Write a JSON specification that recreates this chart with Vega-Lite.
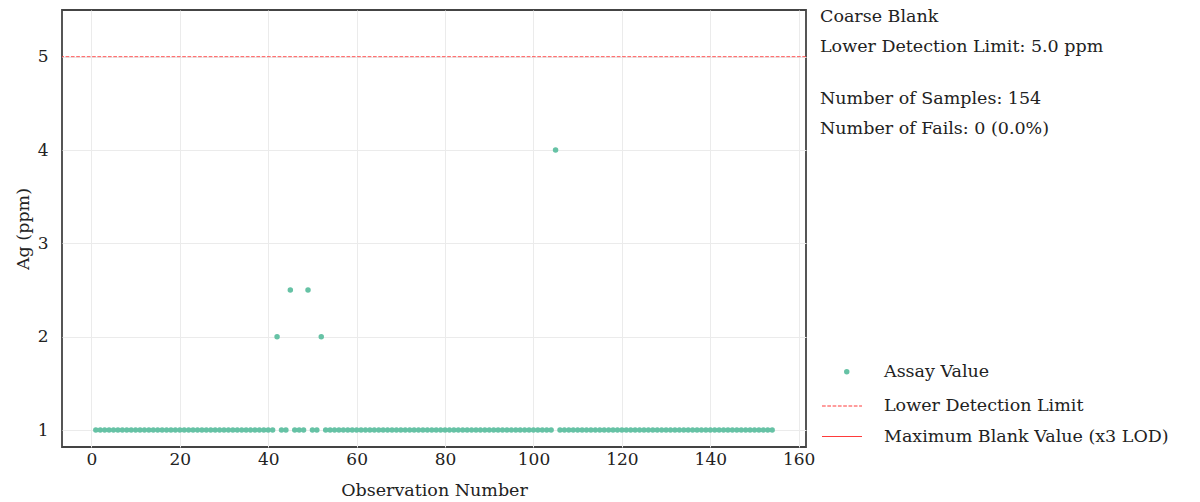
{
  "$schema": "https://vega.github.io/schema/vega-lite/v6.json",
  "width": 744,
  "height": 437,
  "autosize": {"type": "none"},
  "padding": {"left": 62, "top": 10, "right": 394, "bottom": 55},
  "background": "white",
  "title": {
    "text": ["Coarse Blank", "Lower Detection Limit: 5.0 ppm"],
    "subtitle": ["Number of Samples: 154", "Number of Fails: 0 (0.0%)"],
    "anchor": "start",
    "frame": "group",
    "orient": "top",
    "dx": 758,
    "dy": 131,
    "font": "DejaVu Serif",
    "fontSize": 17.5,
    "fontWeight": "normal",
    "color": "#222",
    "lineHeight": 30,
    "subtitleFont": "DejaVu Serif",
    "subtitleFontSize": 17.5,
    "subtitleColor": "#222",
    "subtitleLineHeight": 30,
    "subtitlePadding": 34
  },
  "config": {
    "font": "DejaVu Serif",
    "view": {"stroke": "#444", "strokeWidth": 1.8},
    "axis": {
      "labelFont": "DejaVu Serif",
      "labelFontSize": 17,
      "labelColor": "#222",
      "titleFont": "DejaVu Serif",
      "titleFontSize": 17.5,
      "titleFontWeight": "normal",
      "titleColor": "#222",
      "gridColor": "#ebebeb",
      "gridWidth": 1,
      "domain": false,
      "ticks": false
    },
    "legend": {
      "labelFont": "DejaVu Serif",
      "labelFontSize": 17.5,
      "labelColor": "#222",
      "labelLimit": 0
    }
  },
  "layer": [
    {
      "data": {"values": [
        {"obs":1,"ag":1},{"obs":2,"ag":1},{"obs":3,"ag":1},{"obs":4,"ag":1},{"obs":5,"ag":1},{"obs":6,"ag":1},{"obs":7,"ag":1},{"obs":8,"ag":1},{"obs":9,"ag":1},{"obs":10,"ag":1},
        {"obs":11,"ag":1},{"obs":12,"ag":1},{"obs":13,"ag":1},{"obs":14,"ag":1},{"obs":15,"ag":1},{"obs":16,"ag":1},{"obs":17,"ag":1},{"obs":18,"ag":1},{"obs":19,"ag":1},{"obs":20,"ag":1},
        {"obs":21,"ag":1},{"obs":22,"ag":1},{"obs":23,"ag":1},{"obs":24,"ag":1},{"obs":25,"ag":1},{"obs":26,"ag":1},{"obs":27,"ag":1},{"obs":28,"ag":1},{"obs":29,"ag":1},{"obs":30,"ag":1},
        {"obs":31,"ag":1},{"obs":32,"ag":1},{"obs":33,"ag":1},{"obs":34,"ag":1},{"obs":35,"ag":1},{"obs":36,"ag":1},{"obs":37,"ag":1},{"obs":38,"ag":1},{"obs":39,"ag":1},{"obs":40,"ag":1},
        {"obs":41,"ag":1},{"obs":42,"ag":2},{"obs":43,"ag":1},{"obs":44,"ag":1},{"obs":45,"ag":2.5},{"obs":46,"ag":1},{"obs":47,"ag":1},{"obs":48,"ag":1},{"obs":49,"ag":2.5},{"obs":50,"ag":1},
        {"obs":51,"ag":1},{"obs":52,"ag":2},{"obs":53,"ag":1},{"obs":54,"ag":1},{"obs":55,"ag":1},{"obs":56,"ag":1},{"obs":57,"ag":1},{"obs":58,"ag":1},{"obs":59,"ag":1},{"obs":60,"ag":1},
        {"obs":61,"ag":1},{"obs":62,"ag":1},{"obs":63,"ag":1},{"obs":64,"ag":1},{"obs":65,"ag":1},{"obs":66,"ag":1},{"obs":67,"ag":1},{"obs":68,"ag":1},{"obs":69,"ag":1},{"obs":70,"ag":1},
        {"obs":71,"ag":1},{"obs":72,"ag":1},{"obs":73,"ag":1},{"obs":74,"ag":1},{"obs":75,"ag":1},{"obs":76,"ag":1},{"obs":77,"ag":1},{"obs":78,"ag":1},{"obs":79,"ag":1},{"obs":80,"ag":1},
        {"obs":81,"ag":1},{"obs":82,"ag":1},{"obs":83,"ag":1},{"obs":84,"ag":1},{"obs":85,"ag":1},{"obs":86,"ag":1},{"obs":87,"ag":1},{"obs":88,"ag":1},{"obs":89,"ag":1},{"obs":90,"ag":1},
        {"obs":91,"ag":1},{"obs":92,"ag":1},{"obs":93,"ag":1},{"obs":94,"ag":1},{"obs":95,"ag":1},{"obs":96,"ag":1},{"obs":97,"ag":1},{"obs":98,"ag":1},{"obs":99,"ag":1},{"obs":100,"ag":1},
        {"obs":101,"ag":1},{"obs":102,"ag":1},{"obs":103,"ag":1},{"obs":104,"ag":1},{"obs":105,"ag":4},{"obs":106,"ag":1},{"obs":107,"ag":1},{"obs":108,"ag":1},{"obs":109,"ag":1},{"obs":110,"ag":1},
        {"obs":111,"ag":1},{"obs":112,"ag":1},{"obs":113,"ag":1},{"obs":114,"ag":1},{"obs":115,"ag":1},{"obs":116,"ag":1},{"obs":117,"ag":1},{"obs":118,"ag":1},{"obs":119,"ag":1},{"obs":120,"ag":1},
        {"obs":121,"ag":1},{"obs":122,"ag":1},{"obs":123,"ag":1},{"obs":124,"ag":1},{"obs":125,"ag":1},{"obs":126,"ag":1},{"obs":127,"ag":1},{"obs":128,"ag":1},{"obs":129,"ag":1},{"obs":130,"ag":1},
        {"obs":131,"ag":1},{"obs":132,"ag":1},{"obs":133,"ag":1},{"obs":134,"ag":1},{"obs":135,"ag":1},{"obs":136,"ag":1},{"obs":137,"ag":1},{"obs":138,"ag":1},{"obs":139,"ag":1},{"obs":140,"ag":1},
        {"obs":141,"ag":1},{"obs":142,"ag":1},{"obs":143,"ag":1},{"obs":144,"ag":1},{"obs":145,"ag":1},{"obs":146,"ag":1},{"obs":147,"ag":1},{"obs":148,"ag":1},{"obs":149,"ag":1},{"obs":150,"ag":1},
        {"obs":151,"ag":1},{"obs":152,"ag":1},{"obs":153,"ag":1},{"obs":154,"ag":1}
      ]},
      "transform": [{"calculate": "'Assay Value'", "as": "series"}],
      "mark": {"type": "point", "filled": true, "size": 30, "opacity": 1},
      "encoding": {
        "x": {
          "field": "obs", "type": "quantitative",
          "title": "Observation Number",
          "scale": {"domain": [-6.65, 161.65], "nice": false, "zero": false},
          "axis": {"values": [0, 20, 40, 60, 80, 100, 120, 140, 160], "labelPadding": 4, "titlePadding": 14}
        },
        "y": {
          "field": "ag", "type": "quantitative",
          "title": "Ag (ppm)",
          "scale": {"domain": [0.818, 5.5], "nice": false, "zero": false},
          "axis": {"values": [1, 2, 3, 4, 5], "format": "d", "labelPadding": 14, "titlePadding": 5}
        },
        "color": {
          "field": "series", "type": "nominal",
          "scale": {"domain": ["Assay Value"], "range": ["#66c2a5"]},
          "legend": {
            "title": null,
            "orient": "none",
            "legendX": 776,
            "legendY": 353,
            "symbolType": "circle",
            "symbolSize": 30,
            "symbolOpacity": 1,
            "labelOffset": 28.5
          }
        }
      }
    },
    {
      "data": {"values": [{"v": 5, "series": "Lower Detection Limit"}]},
      "mark": {"type": "rule", "color": "#ff3b3b", "strokeWidth": 1, "opacity": 0.85},
      "encoding": {
        "y": {"field": "v", "type": "quantitative"},
        "strokeDash": {
          "field": "series", "type": "nominal",
          "scale": {
            "domain": ["Lower Detection Limit", "Maximum Blank Value (x3 LOD)"],
            "range": [[3.7, 1.6], [100, 0]]
          },
          "legend": {
            "title": null,
            "orient": "none",
            "legendX": 764,
            "legendY": 380,
            "symbolType": "M-1.333,0L1.333,0",
            "symbolSize": 900,
            "symbolStrokeColor": "#ff3b3b",
            "symbolStrokeWidth": 1.2,
            "symbolOpacity": 1,
            "rowPadding": 5.5,
            "labelOffset": 26
          }
        }
      }
    }
  ]
}
